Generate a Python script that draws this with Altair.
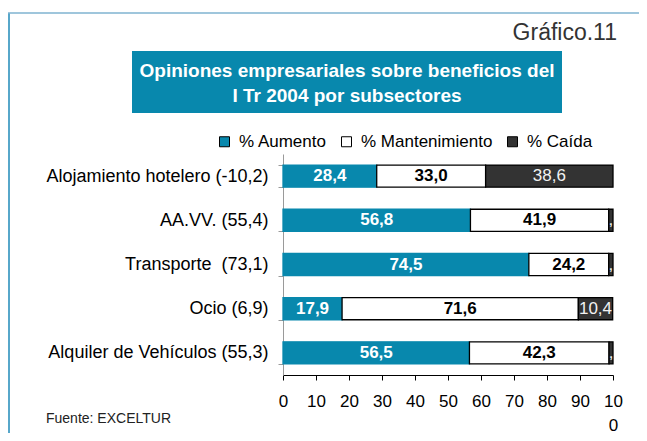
import altair as alt
import pandas as pd

categories = [
    "Alojamiento hotelero (-10,2)",
    "AA.VV. (55,4)",
    "Transporte\u00a0 (73,1)",
    "Ocio (6,9)",
    "Alquiler de Vehículos (55,3)",
]
aumento = [28.4, 56.8, 74.5, 17.9, 56.5]
mantenimiento = [33.0, 41.9, 24.2, 71.6, 42.3]
caida = [38.6, 1.3, 1.3, 10.4, 1.2]
series = ["% Aumento", "% Mantenimiento", "% Caída"]
colors = ["#0888ad", "#ffffff", "#333333"]
x_ticks = [0, 10, 20, 30, 40, 50, 60, 70, 80, 90, 100]

title_lines = ["Opiniones empresariales sobre beneficios del", "I Tr 2004 por subsectores"]
chart_number = "Gráfico.11"
source = "Fuente: EXCELTUR"

FONT = "Liberation Sans"
TEAL = "#0888ad"

rows = []
for i, c in enumerate(categories):
    for j, vals in enumerate([aumento, mantenimiento, caida]):
        rows.append({"cat": c, "serie": series[j], "orden": j, "valor": vals[i]})
df = pd.DataFrame(rows)

base = alt.Chart(df).transform_stack(
    stack="valor", groupby=["cat"], as_=["x0", "x1"], sort=[alt.SortField("orden")]
).transform_calculate(
    mid="(datum.x0 + datum.x1) / 2",
    etiqueta="datum.valor < 5 ? ',' : replace(format(datum.valor, '.1f'), '.', ',')",
)

y_axis = alt.Axis(
    title=None, labelFontSize=18, labelFont=FONT, labelColor="black",
    tickBand="extent", tickSize=5, tickColor="#9a9a9a", domainColor="#9a9a9a",
    labelPadding=10, labelLimit=400,
)
y_scale = alt.Scale(paddingInner=0.5, paddingOuter=0.25)
x_axis = alt.Axis(
    values=x_ticks, title=None, grid=False, labelFontSize=17, labelFont=FONT,
    labelColor="black", tickSize=5, tickColor="black", domainColor="black",
    labelPadding=13, labelFlush=False, labelOverlap=False,
    labelExpr="datum.value == 100 ? ['10', '0'] : datum.label",
    labelLineHeight=24,
)
x_scale = alt.Scale(domain=[0, 100], nice=False)

bars = base.mark_bar().encode(
    y=alt.Y("cat:N", sort=categories, scale=y_scale, axis=y_axis),
    x=alt.X("x0:Q", scale=x_scale, axis=x_axis),
    x2="x1:Q",
    fill=alt.Color(
        "serie:N",
        scale=alt.Scale(domain=series, range=colors),
        legend=alt.Legend(
            title=None, orient="none", legendX=-67, legendY=-21, direction="horizontal",
            symbolType="square", symbolSize=100, symbolStrokeColor="black",
            symbolStrokeWidth=1, labelFontSize=17, labelFont=FONT, labelColor="black",
            labelOffset=6, columnPadding=11, padding=0,
        ),
        sort=series,
    ),
    stroke=alt.when(alt.datum.serie == "% Aumento").then(alt.value(TEAL)).otherwise(alt.value("black")),
    strokeWidth=alt.value(1.3),
)

txt_bold = base.transform_filter(
    "datum.serie != '% Caída'"
).mark_text(fontSize=17, font=FONT, fontWeight="bold", baseline="middle").encode(
    y=alt.Y("cat:N", sort=categories, scale=y_scale, axis=y_axis),
    x=alt.X("mid:Q", scale=x_scale, axis=x_axis),
    text="etiqueta:N",
    color=alt.when(alt.datum.serie == "% Aumento").then(alt.value("white")).otherwise(alt.value("black")),
)

txt_norm = base.transform_filter(
    "datum.serie == '% Caída'"
).mark_text(fontSize=17, font=FONT, baseline="middle", color="#f2f2f2").encode(
    y=alt.Y("cat:N", sort=categories, scale=y_scale, axis=y_axis),
    x=alt.X("mid:Q", scale=x_scale, axis=x_axis),
    text="etiqueta:N",
)

one = alt.Data(values=[{"k": 1}])

frame_left = alt.Chart(one).mark_rule(color="#1f8ab8", strokeWidth=1.5).encode(
    x=alt.value(-274), y=alt.value(-141), y2=alt.value(279)
)
frame_top = alt.Chart(one).mark_rule(color="#7fb3d0", strokeWidth=1.5).encode(
    x=alt.value(-275), x2=alt.value(356), y=alt.value(-141)
)
title_box = alt.Chart(one).mark_rect(color=TEAL).encode(
    x=alt.value(-151), x2=alt.value(279), y=alt.value(-103), y2=alt.value(-41)
)
title1 = alt.Chart(one).mark_text(
    text=title_lines[0], font=FONT, fontSize=19, fontWeight="bold", color="white",
    align="center", baseline="alphabetic",
).encode(x=alt.value(64), y=alt.value(-77))
title2 = alt.Chart(one).mark_text(
    text=title_lines[1], font=FONT, fontSize=19, fontWeight="bold", color="white",
    align="center", baseline="alphabetic",
).encode(x=alt.value(64), y=alt.value(-52))
number = alt.Chart(one).mark_text(
    text=chart_number, font=FONT, fontSize=23, color="#333333",
    align="right", baseline="alphabetic",
).encode(x=alt.value(334), y=alt.value(-114))
fuente = alt.Chart(one).mark_text(
    text=source, font=FONT, fontSize=14, color="#222222",
    align="left", baseline="alphabetic",
).encode(x=alt.value(-237), y=alt.value(269))

chart = alt.layer(
    frame_left, frame_top, title_box, title1, title2, number, fuente,
    bars, txt_bold, txt_norm,
).properties(
    width=330,
    height=221,
    padding={"left": 275, "top": 146, "right": 26, "bottom": 58},
    autosize=alt.AutoSizeParams(type="none"),
    background="white",
).configure_view(stroke=None)

chart.save("out.html", embed_options={"renderer": "svg", "actions": False})
